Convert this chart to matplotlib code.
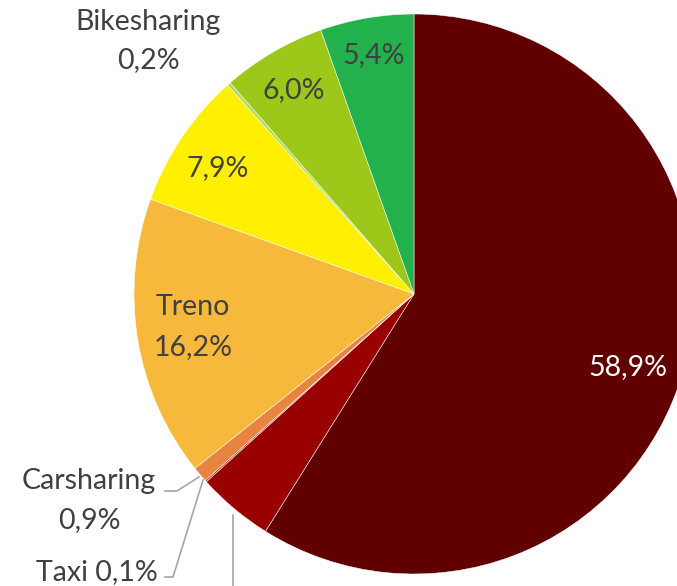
import matplotlib
matplotlib.use("Agg")
import matplotlib.pyplot as plt

# Data (clockwise from 12 o'clock)
categories = ["Auto", "Moto", "Taxi", "Carsharing", "Treno", "Bus", "Bikesharing", "Bici", "Piedi"]
values = [58.9, 4.4, 0.1, 0.9, 16.2, 7.9, 0.2, 6.0, 5.4]
colors = ["#600000", "#990000", "#C0392B", "#E8843F", "#F6B93B", "#FFEF00", "#B2DE4E", "#9DC81A", "#22B14C"]

W, H = 677, 586
fig = plt.figure(figsize=(W / 100, H / 100), dpi=100)
ax = fig.add_axes([0, 0, 1, 1])

cx, cy, r = 414, H - 294, 280
ax.pie(values, colors=colors, startangle=90, counterclock=False,
       center=(cx, cy), radius=r,
       wedgeprops=dict(edgecolor="white", linewidth=0.35))
ax.set_xlim(0, W)
ax.set_ylim(0, H)
ax.set_aspect("equal")
ax.axis("off")

font = ["Lato", "DejaVu Sans"]
fs = 20.5
gray = "#404040"

def lab(x, y, s, color=gray, ha="center"):
    ax.text(x, H - y, s, fontsize=fs, family=font, color=color, ha=ha, va="center")

def pct(v):
    return f"{v:.1f}".replace(".", ",") + "%"

lab(628, 367, pct(values[0]), color="white")
lab(374, 55, pct(values[8]))
lab(294, 90, pct(values[7]))
lab(218, 168, pct(values[5]))
lab(193, 307, categories[4])
lab(193, 347, pct(values[4]))
lab(148, 22, categories[6])
lab(148, 60, pct(values[6]))
lab(89, 481, categories[3])
lab(89, 520, pct(values[3]))
lab(97, 572, categories[2] + " " + pct(values[2]))

lc = "#A6A6A6"
lw = 1.2
ax.plot([165, 177, 199], [H - 491, H - 491, H - 477], color=lc, lw=lw)
ax.plot([165, 173, 203], [H - 577, H - 577, H - 480], color=lc, lw=lw)
ax.plot([233, 233], [H - 515, -10], color=lc, lw=lw, clip_on=False)

fig.savefig("out.png", dpi=100)
